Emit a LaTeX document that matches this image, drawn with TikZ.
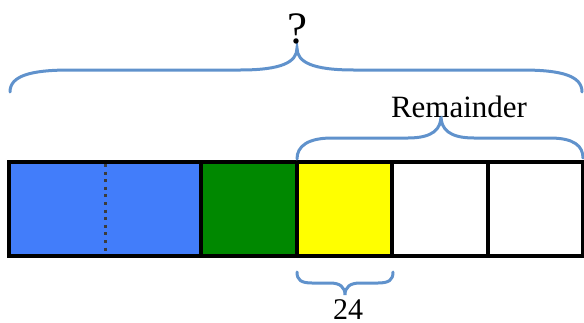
\documentclass[tikz,border=0pt]{standalone}
\usepackage{fontspec}
\setmainfont{Liberation Serif}
\definecolor{barblue}{RGB}{66,125,250}
\definecolor{bargreen}{RGB}{0,136,0}
\definecolor{baryellow}{RGB}{255,255,0}
\definecolor{bracecol}{RGB}{96,146,204}
\definecolor{dotcol}{RGB}{60,60,60}
\tikzset{
  cell/.style={draw=black, line width=4pt, rectangle, minimum height=94pt, inner sep=0pt, outer sep=0pt},
  bracepath/.style={draw=bracecol, line width=3pt, line cap=round},
  lbl/.style={anchor=base, inner sep=0pt}
}
\begin{document}
\begin{tikzpicture}[x=1pt,y=-1pt]
\useasboundingbox (0,0) rectangle (584,322);
% cells
\node[cell, fill=barblue, minimum width=192pt] (c1) at (105,209) {};
\node[cell, fill=bargreen, minimum width=96pt] (c2) at (249,209) {};
\node[cell, fill=baryellow, minimum width=95pt] (c3) at (344.5,209) {};
\node[cell, fill=white, minimum width=96pt] (c4) at (440,209) {};
\node[cell, fill=white, minimum width=95pt] (c5) at (535.5,209) {};
\draw[dotcol, line width=3pt, dash pattern=on 3pt off 4.6pt] ([yshift=-2pt]c1.north) -- ([yshift=2pt]c1.south);
% top brace
\draw[bracepath] (10,92) .. controls (10,76) and (30,70) .. (70,70) -- (240,70)
  .. controls (282,70) and (297,62) .. (297,48)
  .. controls (297,62) and (312,70) .. (354,70) -- (522,70)
  .. controls (562,70) and (582,76) .. (582,92);
\node[lbl, font=\fontsize{45}{50}\selectfont] (q) at (297,43) {?};
% remainder brace
\draw[bracepath] (c3.north west) ++(0,-3) .. controls (297,146) and (308,138) .. (332,138) -- (408,138)
  .. controls (433,138) and (441,129) .. (441,116)
  .. controls (441,129) and (449,138) .. (474,138) -- (550,138)
  .. controls (574,138) and (583,146) .. (583,158);
\node[lbl, font=\fontsize{31}{36}\selectfont] (rem) at (459,117) {Remainder};
% bottom brace
\draw[bracepath] (297,272) .. controls (297,280) and (301,283) .. (312,283) -- (330,283)
  .. controls (340,283) and (345,287) .. (345,295)
  .. controls (345,287) and (350,283) .. (360,283) -- (378,283)
  .. controls (389,283) and (393,280) .. (393,272);
\node[lbl, font=\fontsize{30}{35}\selectfont] (n24) at (348,319) {24};
\end{tikzpicture}
\end{document}
